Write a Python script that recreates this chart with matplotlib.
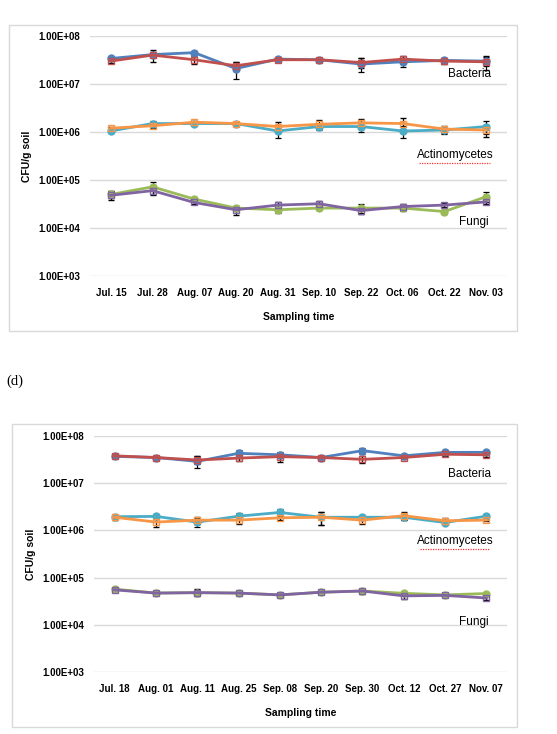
import matplotlib
matplotlib.use("Agg")
import matplotlib.pyplot as plt
from matplotlib.patches import Rectangle
import numpy as np

plt.rcParams['font.family'] = ['Liberation Sans', 'DejaVu Sans']

# ---- data: upper panel ----
dates_c = ["Jul. 15", "Jul. 28", "Aug. 07", "Aug. 20", "Aug. 31",
           "Sep. 10", "Sep. 22", "Oct. 06", "Oct. 22", "Nov. 03"]
bac_c1 = [3.4e7, 4.1e7, 4.5e7, 2.1e7, 3.3e7, 3.2e7, 2.6e7, 2.9e7, 3.1e7, 3.0e7]
bac_c2 = [3.0e7, 4.0e7, 3.2e7, 2.4e7, 3.2e7, 3.2e7, 2.8e7, 3.3e7, 3.0e7, 2.9e7]
bac_c1_err = [2e6, 5e6, 3e6, 8e6, 3e6, 3e6, 8e6, 6e6, 3e6, 6e6]
bac_c2_err = [3e6, 1.1e7, 6e6, 5e6, 3e6, 3e6, 6e6, 5e6, 4e6, 9e6]
act_c1 = [1.05e6, 1.5e6, 1.5e6, 1.5e6, 1.05e6, 1.3e6, 1.3e6, 1.05e6, 1.1e6, 1.3e6]
act_c2 = [1.2e6, 1.35e6, 1.6e6, 1.5e6, 1.3e6, 1.45e6, 1.55e6, 1.5e6, 1.15e6, 1.1e6]
act_c1_err = [1e5, 2e5, 1e5, 1e5, 3e5, 2e5, 3e5, 3e5, 2e5, 4e5]
act_c2_err = [1e5, 1.5e5, 1e5, 1e5, 3e5, 3e5, 3e5, 5e5, 2e5, 3e5]
fun_c1 = [5.0e4, 7.2e4, 4.0e4, 2.6e4, 2.4e4, 2.6e4, 2.6e4, 2.6e4, 2.2e4, 4.5e4]
fun_c2 = [4.8e4, 6.0e4, 3.4e4, 2.4e4, 3.0e4, 3.2e4, 2.3e4, 2.8e4, 3.0e4, 3.5e4]
fun_c1_err = [8e3, 2e4, 4e3, 3e3, 3e3, 2e3, 5e3, 3e3, 2e3, 1e4]
fun_c2_err = [1e4, 1.2e4, 3e3, 5e3, 5e3, 4e3, 3e3, 4e3, 3e3, 4e3]

# ---- data: lower panel (d) ----
dates_d = ["Jul. 18", "Aug. 01", "Aug. 11", "Aug. 25", "Sep. 08",
           "Sep. 20", "Sep. 30", "Oct. 12", "Oct. 27", "Nov. 07"]
bac_d1 = [3.7e7, 3.5e7, 2.9e7, 4.3e7, 4.0e7, 3.5e7, 4.9e7, 3.8e7, 4.5e7, 4.5e7]
bac_d2 = [3.8e7, 3.5e7, 3.1e7, 3.4e7, 3.65e7, 3.5e7, 3.2e7, 3.5e7, 4.1e7, 4.0e7]
bac_d1_err = [3e6, 3e6, 8e6, 8e6, 5e6, 2e6, 8e6, 3e6, 5e6, 4e6]
bac_d2_err = [3e6, 3e6, 6e6, 5e6, 8e6, 2e6, 5e6, 3e6, 4e6, 4e6]
act_d1 = [1.95e6, 1.98e6, 1.5e6, 2.0e6, 2.4e6, 1.9e6, 1.9e6, 1.9e6, 1.47e6, 2.0e6]
act_d2 = [1.9e6, 1.5e6, 1.65e6, 1.65e6, 1.85e6, 1.9e6, 1.65e6, 2.05e6, 1.6e6, 1.65e6]
act_d1_err = [2e5, 2e5, 3e5, 3e5, 4e5, 6e5, 2e5, 2e5, 1e5, 2e5]
act_d2_err = [2e5, 3e5, 3e5, 3e5, 2e5, 6e5, 3e5, 4e5, 2e5, 1e5]
fun_d1 = [5.7e4, 4.7e4, 4.8e4, 4.7e4, 4.3e4, 4.9e4, 5.2e4, 4.65e4, 4.3e4, 4.6e4]
fun_d2 = [5.5e4, 4.7e4, 4.8e4, 4.7e4, 4.3e4, 4.9e4, 5.2e4, 4.1e4, 4.2e4, 3.7e4]
fun_d1_err = [3e3, 3e3, 6e3, 3e3, 3e3, 3e3, 4e3, 3e3, 3e3, 2e3]
fun_d2_err = [3e3, 3e3, 8e3, 3e3, 3e3, 3e3, 6e3, 5e3, 3e3, 3e3]

yticks = [1e3, 1e4, 1e5, 1e6, 1e7, 1e8]
ytick_labels = ["1.00E+03", "1.00E+04", "1.00E+05", "1.00E+06", "1.00E+07", "1.00E+08"]

W, H = 557, 734
fig = plt.figure(figsize=(W / 100, H / 100), dpi=100)


def box(x0, y0, x1, y1):
    fig.add_artist(Rectangle((x0 / W, 1 - y1 / H), (x1 - x0) / W, (y1 - y0) / H,
                             transform=fig.transFigure, fill=False,
                             edgecolor="#d9d9d9", linewidth=1.0))


def series(ax, y, err, color, filled):
    x = np.arange(len(y))
    if filled:
        mk = dict(marker="o", markerfacecolor=color, markeredgecolor=color)
    else:
        mk = dict(marker="s", markerfacecolor="none", markeredgecolor=color,
                  markeredgewidth=1.0)
    ax.errorbar(x, y, yerr=err, color=color, linewidth=2.0, markersize=5,
                ecolor="black", elinewidth=0.9, capsize=2.2, capthick=0.9, **mk)


def panel(rect, dates, data, lab_y):
    ax = fig.add_axes(rect)
    for y, err, color, filled in data:
        series(ax, y, err, color, filled)
    ax.set_yscale("log")
    ax.set_ylim(1e3, 1e8)
    ax.set_xlim(-0.5, len(dates) - 0.5)
    ax.set_yticks(yticks)
    ax.set_yticklabels(ytick_labels, fontsize=7, fontweight="bold")
    ax.minorticks_off()
    ax.set_xticks(np.arange(len(dates)))
    ax.set_xticklabels(dates, fontsize=7, fontweight="bold")
    ax.tick_params(length=0, pad=7)
    ax.tick_params(axis="x", pad=9)
    ax.grid(axis="y", color="#d9d9d9", linewidth=1.0)
    ax.set_axisbelow(True)
    for s in ax.spines.values():
        s.set_visible(False)
    ax.set_xlabel("Sampling time", fontsize=7.5, fontweight="bold", labelpad=10)
    ax.set_ylabel("CFU/g soil", fontsize=7.5, fontweight="bold")
    ax.yaxis.set_label_coords(-0.14, 0.5)
    # group labels
    for txt, yv, xv in zip(["Bacteria", "Actinomycetes", "Fungi"], lab_y,
                           [0.91, 0.875, 0.92]):
        ax.text(xv, yv, txt, transform=ax.transAxes, fontsize=8.5,
                ha="center", va="center")
    # spell-check squiggle under Actinomycetes
    ax.plot([0.79, 0.96], [lab_y[1] - 0.035] * 2, transform=ax.transAxes,
            color="#ff3030", linewidth=0.9, linestyle=(0, (1, 1)))
    return ax


blue, red = "#4f81bd", "#c0504d"
teal, orange = "#4bacc6", "#f79646"
green, purple = "#9bbb59", "#8064a2"

box(9, 25, 517, 331)
panel([90 / W, 1 - 276 / H, 417 / W, 240 / H], dates_c,
      [(bac_c1, bac_c1_err, blue, True), (bac_c2, bac_c2_err, red, False),
       (act_c1, act_c1_err, teal, True), (act_c2, act_c2_err, orange, False),
       (fun_c1, fun_c1_err, green, True), (fun_c2, fun_c2_err, purple, False)],
      [0.84, 0.505, 0.225])

fig.text(6 / W, 1 - 381 / H, "(d)", fontsize=10.5, family="Liberation Serif",
         va="center", ha="left")

box(12, 424, 517, 727)
panel([94 / W, 1 - 672 / H, 413 / W, 236 / H], dates_d,
      [(bac_d1, bac_d1_err, blue, True), (bac_d2, bac_d2_err, red, False),
       (act_d1, act_d1_err, teal, True), (act_d2, act_d2_err, orange, False),
       (fun_d1, fun_d1_err, green, True), (fun_d2, fun_d2_err, purple, False)],
      [0.84, 0.555, 0.21])

fig.savefig("out.png", dpi=100)
